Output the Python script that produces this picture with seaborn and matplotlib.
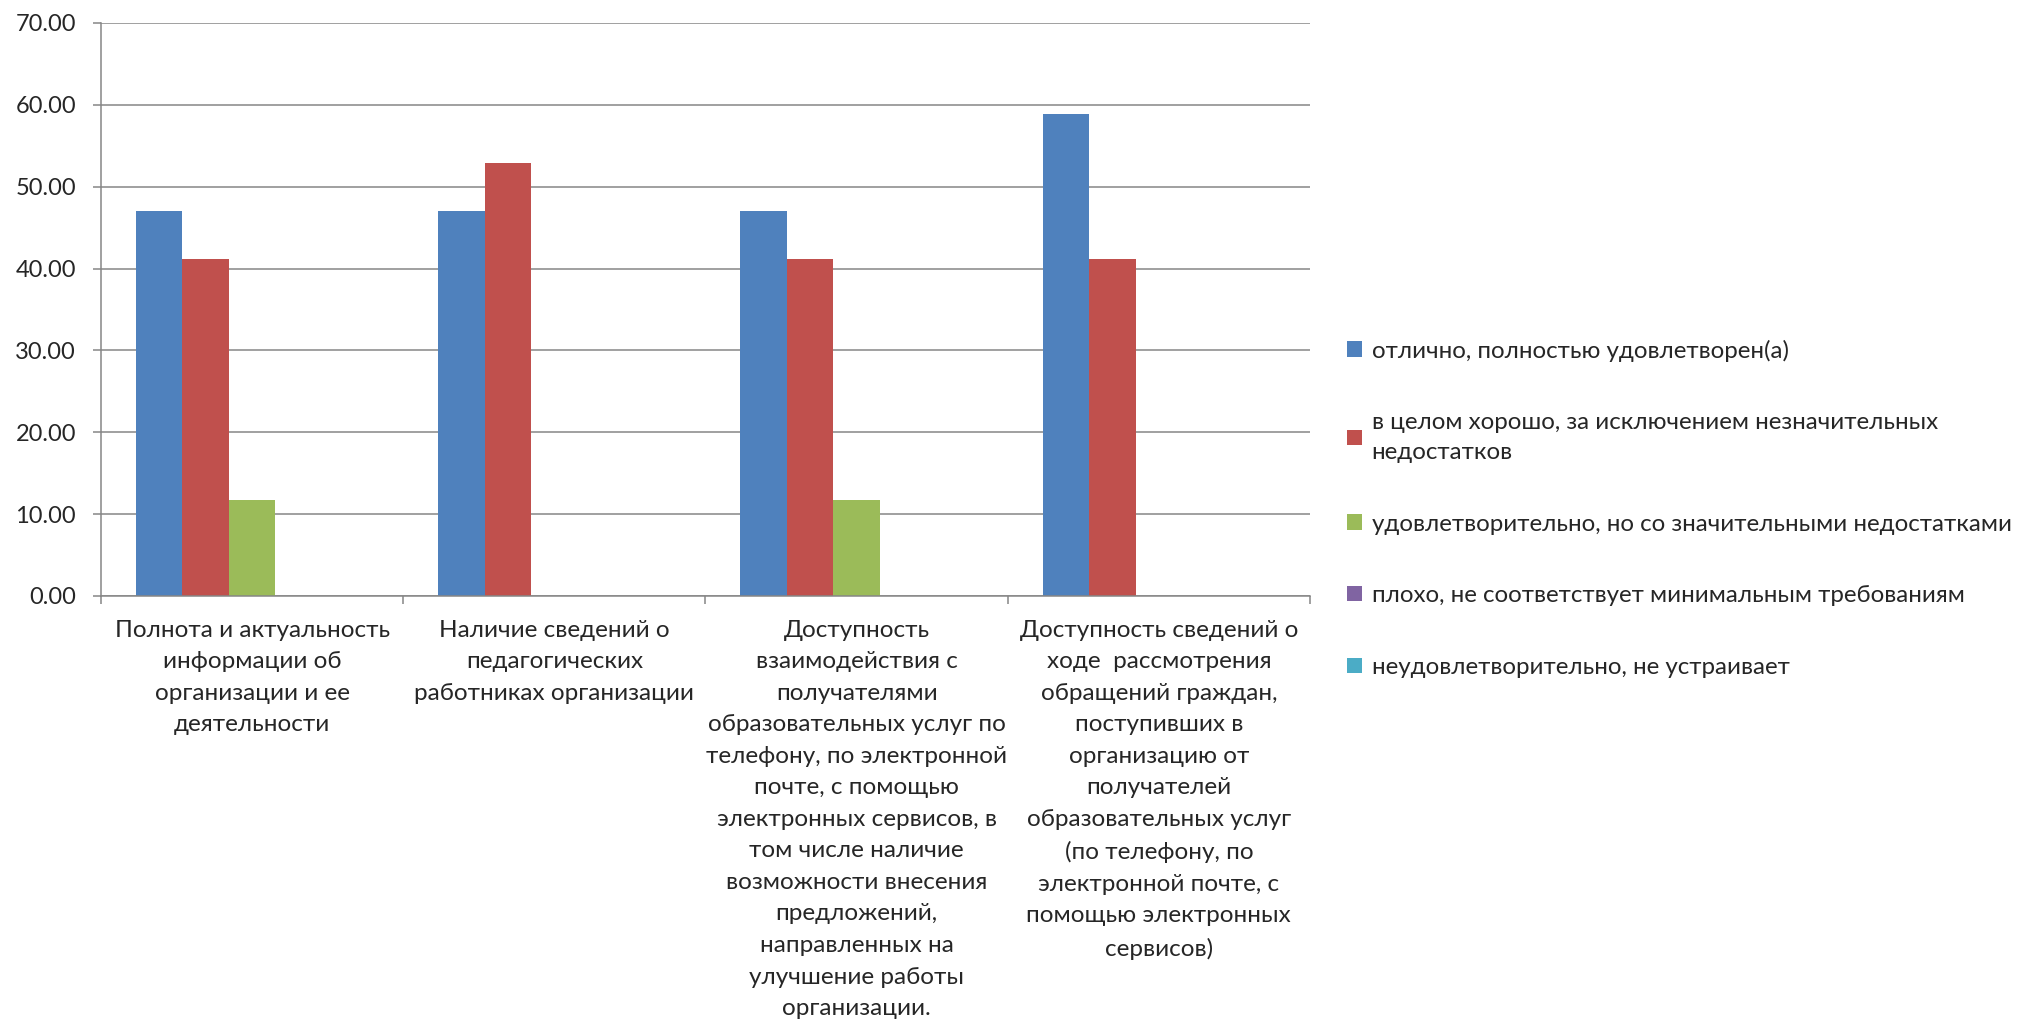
import numpy as np
import pandas as pd
import matplotlib
matplotlib.use('Agg')
import matplotlib.pyplot as plt
import seaborn as sns

# ============================================================
# Data
# ============================================================
CATEGORIES = [
    'Полнота и актуальность\nинформации об\nорганизации и ее\nдеятельности',
    'Наличие сведений о\nпедагогических\nработниках организации',
    'Доступность\nвзаимодействия с\nполучателями\nобразовательных услуг по\n'
    'телефону, по электронной\nпочте, с помощью\nэлектронных сервисов, в\n'
    'том числе наличие\nвозможности внесения\nпредложений,\nнаправленных на\n'
    'улучшение работы\nорганизации.',
    'Доступность сведений о\nходе  рассмотрения\nобращений граждан,\n'
    'поступивших в\nорганизацию от\nполучателей\nобразовательных услуг\n'
    '(по телефону, по\nэлектронной почте, с\nпомощью электронных\nсервисов)',
]
SERIES = [
    'отлично, полностью удовлетворен(а)',
    'в целом хорошо, за исключением незначительных\nнедостатков',
    'удовлетворительно, но со значительными недостатками',
    'плохо, не соответствует минимальным требованиям',
    'неудовлетворительно, не устраивает',
]
excellent = [47.06, 47.06, 47.06, 58.82]
good = [41.18, 52.94, 41.18, 41.18]
satisfactory = [11.76, 0.0, 11.76, 0.0]
bad = [0.0, 0.0, 0.0, 0.0]
unsatisfactory = [0.0, 0.0, 0.0, 0.0]
Y_TICKS = [0, 10, 20, 30, 40, 50, 60, 70]

COLORS = ['#4F81BD', '#C0504D', '#9BBB59', '#8064A2', '#4BACC6']
GRID = '#868686'

rows = []
for name, vals in zip(SERIES, [excellent, good, satisfactory, bad, unsatisfactory]):
    for cat, v in zip(CATEGORIES, vals):
        rows.append({'category': cat, 'series': name, 'value': v})
df = pd.DataFrame(rows)

# ============================================================
# Plot
# ============================================================
sns.set_theme(style='white')
plt.rcParams['font.family'] = ['Lato', 'DejaVu Sans']

fig = plt.figure(figsize=(20.24, 10.34), dpi=100)
ax = fig.add_axes([0.0499, 0.4236, 0.5973, 0.5542])

sns.barplot(data=df, x='category', y='value', hue='series',
            palette=COLORS, order=CATEGORIES, hue_order=SERIES,
            width=5 / 6.5, linewidth=0, saturation=1, ax=ax)

ax.set_ylim(0, 70)
ax.set_xlim(-0.5, len(CATEGORIES) - 0.5)
ax.set_yticks(Y_TICKS)
ax.set_yticklabels([f'{t:.2f}' for t in Y_TICKS])
ax.set_xlabel('')
ax.set_ylabel('')
ax.yaxis.grid(True, color=GRID, linewidth=1.1)
ax.set_axisbelow(True)

for s in ['top', 'right']:
    ax.spines[s].set_visible(False)
for s in ['left', 'bottom']:
    ax.spines[s].set_color(GRID)
    ax.spines[s].set_linewidth(1.1)

ax.tick_params(axis='y', which='major', direction='out', length=6, width=1.1,
               color=GRID, labelsize=17, pad=12, left=True)
ax.tick_params(axis='x', which='major', length=0, labelsize=17.5, pad=17)
ax.set_xticks(np.arange(-0.5, len(CATEGORIES)), minor=True)
ax.tick_params(axis='x', which='minor', direction='out', length=6, width=1.1,
               color=GRID, bottom=True)
for lbl in ax.get_xticklabels():
    lbl.set_horizontalalignment('center')
    lbl.set_multialignment('center')
    lbl.set_linespacing(1.62)

handles, labels = ax.get_legend_handles_labels()
ax.get_legend().remove()
leg = fig.legend(handles, labels, loc='center left', bbox_to_anchor=(0.655, 0.508),
                 frameon=False, fontsize=17.4, handlelength=0.6, handleheight=0.6,
                 handletextpad=0.4, labelspacing=2.1)
for t in leg.get_texts():
    t.set_linespacing(1.5)

plt.savefig('out.png', dpi=100)
plt.close()
